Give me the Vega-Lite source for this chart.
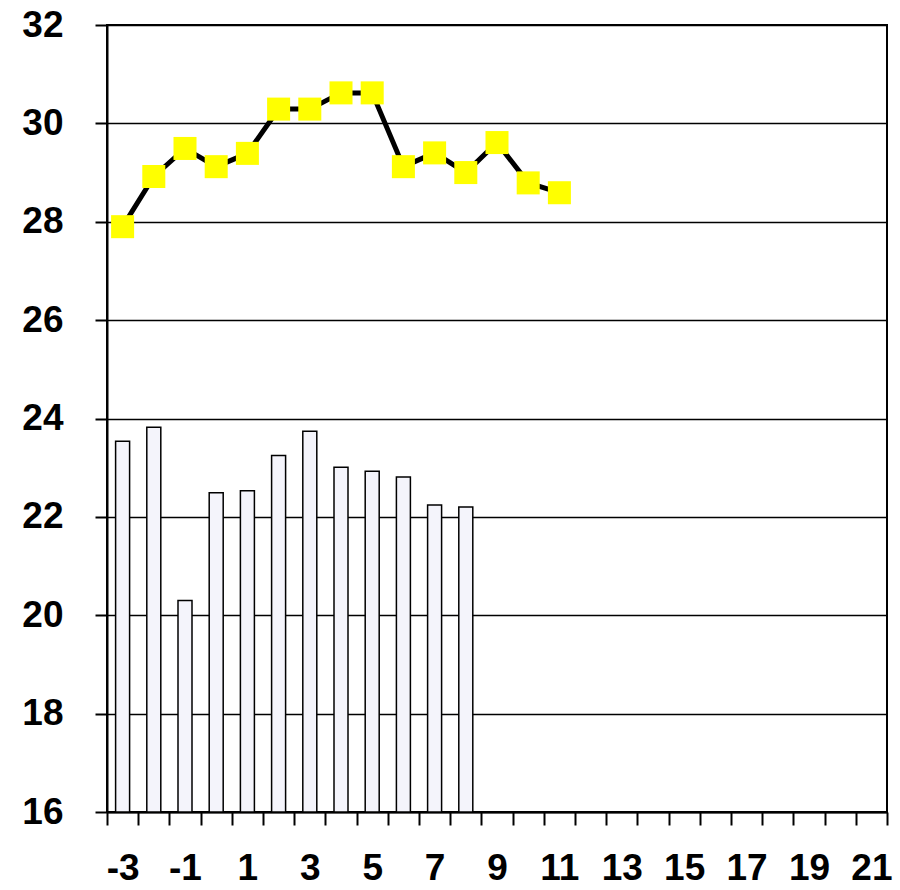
{
  "$schema": "https://vega.github.io/schema/vega-lite/v6.json",
  "width": 780,
  "height": 787,
  "autosize": {"type": "none"},
  "padding": {"left": 107, "top": 25, "right": 13, "bottom": 78},
  "background": "white",
  "config": {
    "view": {"stroke": "black", "strokeWidth": 2},
    "font": "Liberation Sans",
    "axis": {
      "labelFont": "Liberation Sans",
      "labelFontWeight": "bold",
      "labelFontSize": 37,
      "labelColor": "black",
      "tickColor": "black",
      "domainColor": "black",
      "domainWidth": 2,
      "tickWidth": 2,
      "title": null
    }
  },
  "datasets": {
    "bars": [
      {"x": -3, "v": 23.54},
      {"x": -2, "v": 23.82},
      {"x": -1, "v": 20.30},
      {"x": 0, "v": 22.49},
      {"x": 1, "v": 22.53},
      {"x": 2, "v": 23.25},
      {"x": 3, "v": 23.74},
      {"x": 4, "v": 23.01},
      {"x": 5, "v": 22.93},
      {"x": 6, "v": 22.81},
      {"x": 7, "v": 22.24},
      {"x": 8, "v": 22.20}
    ],
    "line": [
      {"x": -3, "v": 27.90},
      {"x": -2, "v": 28.92},
      {"x": -1, "v": 29.49},
      {"x": 0, "v": 29.12},
      {"x": 1, "v": 29.39},
      {"x": 2, "v": 30.29},
      {"x": 3, "v": 30.29},
      {"x": 4, "v": 30.62},
      {"x": 5, "v": 30.62},
      {"x": 6, "v": 29.12},
      {"x": 7, "v": 29.40},
      {"x": 8, "v": 29.00},
      {"x": 9, "v": 29.61},
      {"x": 10, "v": 28.79},
      {"x": 11, "v": 28.59}
    ]
  },
  "encoding": {
    "x": {
      "field": "x",
      "type": "ordinal",
      "scale": {
        "domain": [-3,-2,-1,0,1,2,3,4,5,6,7,8,9,10,11,12,13,14,15,16,17,18,19,20,21],
        "paddingInner": 0,
        "paddingOuter": 0
      },
      "axis": {
        "labelAngle": 0,
        "tickBand": "extent",
        "tickSize": 13,
        "labelPadding": 25,
        "labelOverlap": false,
        "labelFlush": false,
        "grid": false,
        "labelExpr": "datum.value % 2 != 0 ? datum.label : ''"
      }
    },
    "y": {
      "field": "v",
      "type": "quantitative",
      "scale": {"domain": [16, 32], "zero": false, "nice": false},
      "axis": {
        "values": [16, 18, 20, 22, 24, 26, 28, 30, 32],
        "tickSize": 12,
        "labelPadding": 32,
        "grid": true,
        "gridColor": "black",
        "gridWidth": 1.5,
        "labelFlush": false,
        "labelOverlap": false
      }
    }
  },
  "layer": [
    {
      "data": {"name": "bars"},
      "mark": {"type": "bar", "width": 14, "fill": "#F4F4FB", "stroke": "black", "strokeWidth": 1.5},
      "encoding": {"y2": {"datum": 16}}
    },
    {
      "data": {"name": "line"},
      "mark": {"type": "line", "color": "black", "strokeWidth": 5}
    },
    {
      "data": {"name": "line"},
      "mark": {"type": "point", "shape": "square", "filled": true, "fill": "#FFFF00", "opacity": 1, "size": 530, "strokeWidth": 0}
    }
  ]
}
